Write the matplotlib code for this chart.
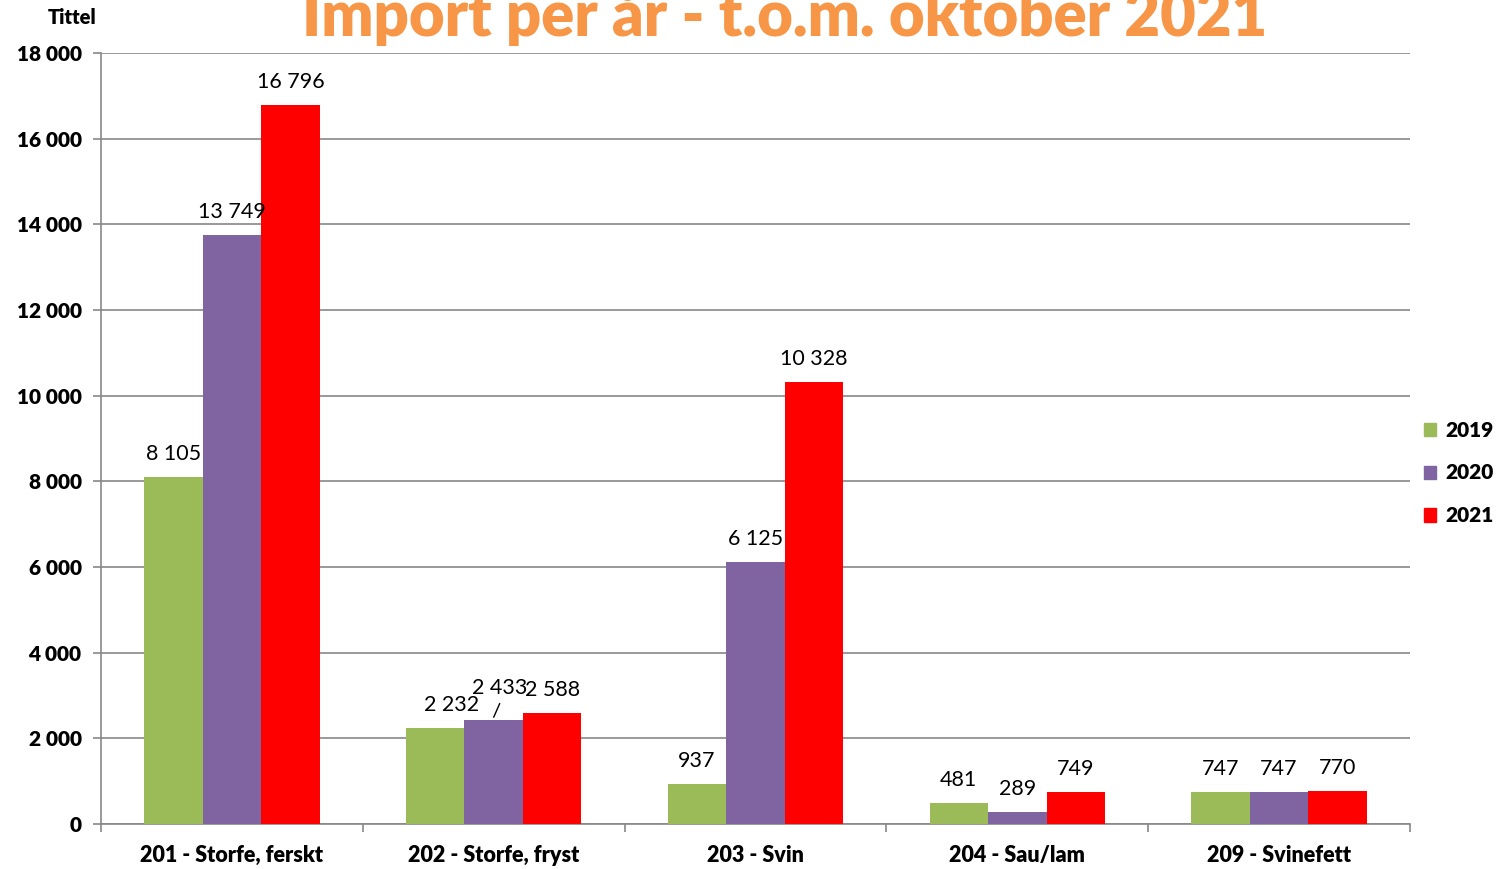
import numpy as np
import matplotlib
matplotlib.use("Agg")
from matplotlib import pyplot as plt
from matplotlib.patches import Patch

plt.rcParams['font.family'] = ['Lato', 'DejaVu Sans']

kategorier = ["201 - Storfe, ferskt", "202 - Storfe, fryst", "203 - Svin", "204 - Sau/lam", "209 - Svinefett"]
aar = ["2019", "2020", "2021"]
v2019 = [8105, 2232, 937, 481, 747]
v2020 = [13749, 2433, 6125, 289, 747]
v2021 = [16796, 2588, 10328, 749, 770]
farger = ["#9BBB59", "#8064A2", "#FF0000"]

def fmt(v):
    return f"{v:,}".replace(",", " ")

fig = plt.figure(figsize=(14.99, 8.69), dpi=100)
ax = fig.add_axes([101/1499, 1-824/869, 1309/1499, 771/869])

x = np.arange(len(kategorier))
bw = 0.2235
serier = [v2019, v2020, v2021]
for i, (verdier, farge) in enumerate(zip(serier, farger)):
    pos = x + (i - 1) * bw
    ax.bar(pos, verdier, width=bw, color=farge, zorder=3)
    for j, (p, v) in enumerate(zip(pos, verdier)):
        dx, dy = 0, 16.5
        if j == 1 and i == 0:
            dx, dy = 11.5, 17
        if j == 1 and i == 1:
            dx, dy = 4.5, 23
        ax.annotate(fmt(v), (p, v), xytext=(dx, dy), textcoords="offset points",
                    ha="center", va="center", fontsize=15.5, zorder=4)

# strek til 2 433
p = x[1]
ax.annotate("", xy=(p, v2020[1] + 60), xytext=(p + 0.023, v2020[1] + 380),
            arrowprops=dict(arrowstyle="-", color="black", lw=1, shrinkA=0, shrinkB=0), zorder=4)

ax.set_xlim(-0.5, len(kategorier) - 0.5)
ax.set_ylim(0, 18000)
ax.set_yticks(np.arange(0, 18001, 2000))
ax.set_yticklabels([fmt(v) for v in range(0, 18001, 2000)], fontweight="heavy", fontsize=15)
ax.set_xticks(x)
ax.set_xticklabels(kategorier, fontweight="heavy", fontsize=15.5)
ax.set_xticks(np.arange(-0.5, len(kategorier), 1), minor=True)
ax.tick_params(axis="x", which="major", length=0, pad=15)
ax.tick_params(axis="x", which="minor", length=6, color="#888888", width=1.2)
ax.tick_params(axis="y", length=6, color="#888888", width=1.2, pad=8)

ax.grid(axis="y", color="#888888", lw=1.2, zorder=0)
for s in ["top", "right"]:
    ax.spines[s].set_visible(False)
for s in ["left", "bottom"]:
    ax.spines[s].set_color("#888888")
    ax.spines[s].set_linewidth(1.2)

fig.text(72/1499, 1-18/869, "Tittel", ha="center", va="center", fontweight="heavy", fontsize=14.5)
fig.text(785/1499, 1-36/869, "Import per år - t.o.m. oktober 2021", ha="center", va="baseline",
         fontweight="heavy", fontsize=44.3, color="#F79646")

handles = [Patch(color=c, label=a) for c, a in zip(farger, aar)]
leg = fig.legend(handles=handles, loc="center left", bbox_to_anchor=(1405/1499, 1-473/869),
                 frameon=False, handlelength=0.6, handleheight=0.6, handletextpad=0.45,
                 labelspacing=1.15, prop={"weight": "heavy", "size": 15})

fig.savefig("out.png", dpi=100)
